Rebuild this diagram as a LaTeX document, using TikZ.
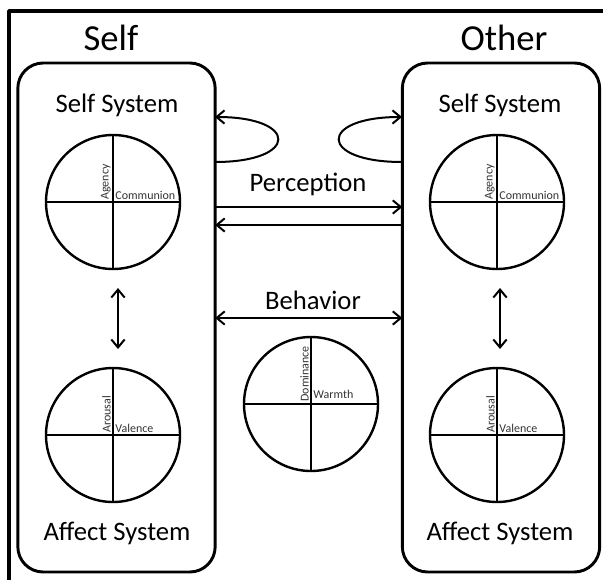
\documentclass[tikz,border=0pt]{standalone}
\usepackage{fontspec}
\setmainfont{Carlito}
\usetikzlibrary{arrows.meta}

\begin{document}
\begin{tikzpicture}[line cap=round,line join=round,>={Straight Barb[length=6pt,width=10pt]},x=0.75pt,y=-0.75pt,
  sysbox/.style={draw,line width=2.2pt,rounded corners=19pt,inner sep=0pt,outer sep=0pt,minimum width=148pt,minimum height=381.75pt},
  quad/.style={draw,circle,line width=1.8pt,inner sep=0pt,outer sep=0pt,minimum size=100.5pt},
  arr/.style={line width=1.5pt},
  head/.style={font=\fontsize{27.5}{29}\selectfont},
  title/.style={font=\fontsize{20}{22}\selectfont},
  lab/.style={font=\fontsize{9}{10}\selectfont,text=black!80,inner sep=1.6pt}]
\useasboundingbox (0,0) rectangle (603,579);
\draw [line width=2.6pt] (9,11) rectangle (612,590);

% the two persons
\node[sysbox] (lbox) at (116.5,317.5) {};
\node[sysbox] (rbox) at (501,317.5) {};
\node[head] (self) at (111,38) {Self};
\node[head] (other) at (504,38) {Other};
\node[title] (lss) at (117,105) {Self System};
\node[title] (rss) at (500,105) {Self System};
\node[title] (las) at (117,533) {Affect System};
\node[title] (ras) at (500,533) {Affect System};

% circles
\node[quad] (lsc) at (113,202) {};
\node[quad] (rsc) at (497,202) {};
\node[quad] (lac) at (113,435) {};
\node[quad] (rac) at (497,435) {};
\node[quad] (bc) at (311,404) {};
\foreach \c in {lsc,rsc,lac,rac,bc}{
  \draw [line width=1.5pt] (\c.north)-- (\c.south);
  \draw [line width=1.5pt] (\c.west)-- (\c.east);
}
\node[lab,rotate=90,anchor=south west] at (lsc.center) {Agency};
\node[lab,anchor=south west] at (lsc.center) {Communion};
\node[lab,rotate=90,anchor=south west] at (rsc.center) {Agency};
\node[lab,anchor=south west] at (rsc.center) {Communion};
\node[lab,rotate=90,anchor=south west] at (lac.center) {Arousal};
\node[lab,anchor=south west] at (lac.center) {Valence};
\node[lab,rotate=90,anchor=south west] at (rac.center) {Arousal};
\node[lab,anchor=south west] at (rac.center) {Valence};
\node[lab,rotate=90,anchor=south west] at (bc.center) {Dominance};
\node[lab,anchor=south west,yshift=2pt] at (bc.center) {Warmth};

% arrows
\node[title] (perc) at (308,184) {Perception};
\node[title] (beh) at (313,300) {Behavior};
\coordinate (p1) at (300,207);
\coordinate (p2) at (300,225);
\coordinate (b1) at (300,318);
\draw [arr,->] (lbox.east |- p1)-- (rbox.west |- p1);
\draw [arr,->] (rbox.west |- p2)-- (lbox.east |- p2);
\draw [arr,<->] (lbox.east |- b1)-- (rbox.west |- b1);

\coordinate (lo) at (215,162);
\coordinate (li) at (215,117);
\coordinate (ro) at (402,162);
\coordinate (ri) at (402,117);
\draw [arr,->] (lo) .. controls (299,162) and (299,117) .. (li);
\draw [arr,->] (ro) .. controls (318,162) and (318,117) .. (ri);

\coordinate (lt) at (118,288);
\coordinate (lb) at (118,349);
\coordinate (rt) at (500,288);
\coordinate (rb) at (500,349);
\draw [arr,<->] (lt)-- (lb);
\draw [arr,<->] (rt)-- (rb);
\end{tikzpicture}
\end{document}
